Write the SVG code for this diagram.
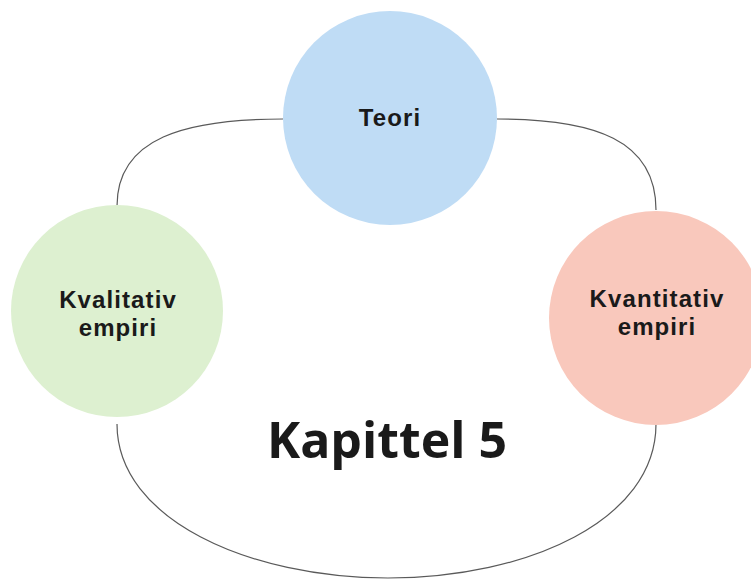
<svg xmlns="http://www.w3.org/2000/svg" width="751" height="580" viewBox="0 0 751 580">
  <style>
    .link { fill: none; stroke: #5a5a5a; stroke-width: 1.2; }
    .label { font-family: "Liberation Sans", Arial, sans-serif; font-weight: bold; font-size: 24px; letter-spacing: 1.1px; fill: #1a1a1a; text-anchor: middle; }
    .title { font-family: "Open Sans", "Noto Sans", sans-serif; font-weight: bold; font-size: 50px; fill: #1a1a1a; text-anchor: middle; }
  </style>
  <rect width="751" height="580" fill="#ffffff"/>

  <!-- cycle connecting the three circles -->
  <g id="connectors">
    <path class="link" d="M283,119 C185,119 117,138 117,206"/>
    <path class="link" d="M497,119 C595,119 656,140 656,210"/>
    <path class="link" d="M117,424 C117,520 250,578 388,578 C528,578 656,520 656,424"/>
  </g>

  <g id="teori">
    <circle cx="390" cy="118" r="107" fill="#bfdcf5"/>
    <text class="label" x="390" y="126">Teori</text>
  </g>

  <g id="kvalitativ">
    <circle cx="117" cy="311" r="106" fill="#ddf0d0"/>
    <text class="label" x="118" y="308">Kvalitativ</text>
    <text class="label" x="118" y="336">empiri</text>
  </g>

  <g id="kvantitativ">
    <circle cx="656" cy="318" r="107" fill="#f9c8bc"/>
    <text class="label" x="657" y="307">Kvantitativ</text>
    <text class="label" x="657" y="335">empiri</text>
  </g>

  <g id="kapittel">
    <text class="title" x="387" y="458">Kapittel 5</text>
  </g>
</svg>
